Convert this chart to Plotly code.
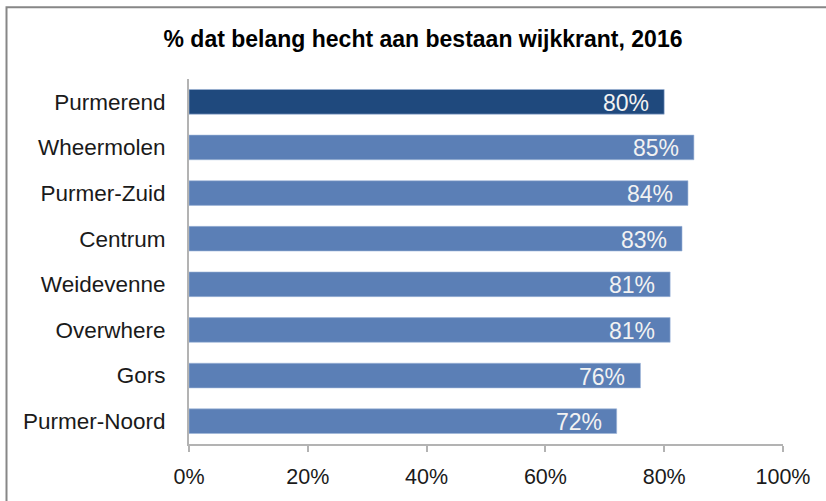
import plotly.graph_objects as go

categories = ["Purmerend", "Wheermolen", "Purmer-Zuid", "Centrum",
              "Weidevenne", "Overwhere", "Gors", "Purmer-Noord"]
values = [80, 85, 84, 83, 81, 81, 76, 72]
bar_colors = ["#1F497D"] + ["#5B7FB6"] * 7
tick_vals = [0, 20, 40, 60, 80, 100]
tick_text = ["0%", "20%", "40%", "60%", "80%", "100%"]
title_text = "% dat belang hecht aan bestaan wijkkrant, 2016"

W, H = 826, 501
L, R, T, B = 189, 43, 78.5, 51.5
pw, ph = W - L - R, H - T - B

def px_x(p):
    return (p - L) / pw

def px_y(p):
    return (H - B - p) / ph

FONT = "Arial, 'Liberation Sans', sans-serif"

fig = go.Figure(go.Bar(
    x=values, y=categories, orientation="h",
    marker=dict(color=bar_colors, line=dict(color="#9DB5D8", width=0.6)),
    width=0.54, hoverinfo="skip",
))

for c, v in zip(categories, values):
    fig.add_annotation(x=v, y=c, xref="x", yref="y", text=f"{v}%",
                       showarrow=False, xanchor="right", yanchor="middle",
                       xshift=-13, yshift=-1,
                       font=dict(family=FONT, size=23, color="#F2F2F2"))

fig.add_shape(type="rect", xref="paper", yref="paper",
              x0=px_x(6.5), x1=px_x(840), y0=px_y(5.5), y1=px_y(520),
              line=dict(color="#878787", width=2), fillcolor="rgba(0,0,0,0)",
              layer="above")

fig.update_layout(
    width=W, height=H,
    margin=dict(l=L, r=R, t=T, b=B, pad=0),
    paper_bgcolor="white", plot_bgcolor="white",
    showlegend=False,
    title=dict(text=f"<b>{title_text}</b>", x=423 / W, xanchor="center",
               xref="container", y=1 - 39 / H, yref="container", yanchor="middle",
               font=dict(family=FONT, size=23, color="#000000")),
    xaxis=dict(range=[0, 100], tickvals=tick_vals, ticktext=tick_text,
               showgrid=False, zeroline=False, showline=True,
               linecolor="#B3B3B3", linewidth=2,
               ticks="outside", ticklen=6, tickwidth=2, tickcolor="#B3B3B3",
               tickfont=dict(family=FONT, size=21.5, color="#1A1A1A"),
               ticklabelstandoff=6, fixedrange=True),
    yaxis=dict(categoryorder="array", categoryarray=categories,
               autorange="reversed", showgrid=False, zeroline=False,
               showline=True, linecolor="#B3B3B3", linewidth=2, ticks="",
               tickfont=dict(family=FONT, size=22.5, color="#1A1A1A"),
               ticklabelstandoff=17, fixedrange=True),
    bargap=0.46,
)

fig.write_html("out.html", config={"displayModeBar": False})
